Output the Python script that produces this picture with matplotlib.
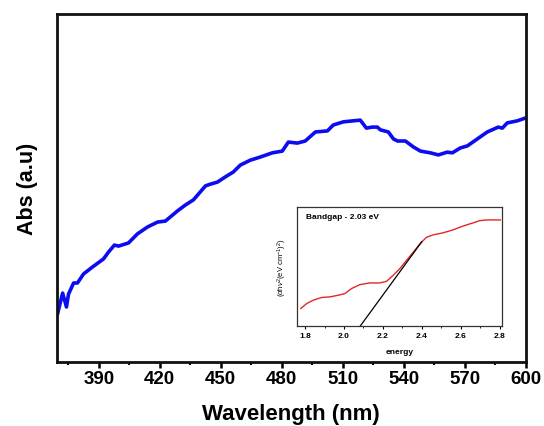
import matplotlib
matplotlib.use("Agg")
import matplotlib.pyplot as plt
from matplotlib.ticker import MultipleLocator, NullLocator

plt.rcParams['font.family'] = ['Liberation Sans', 'DejaVu Sans']
plt.rcParams['mathtext.fontset'] = 'custom'
plt.rcParams['mathtext.rm'] = 'Liberation Sans'
plt.rcParams['mathtext.it'] = 'Liberation Sans:italic'
plt.rcParams['mathtext.bf'] = 'Liberation Sans:bold'

# UV-Vis absorbance spectrum
wavelength = [369.7, 372.2, 374.1, 375.1, 377.6, 379.5, 382.5, 386.9, 392.3, 394.8,
              397.7, 399.7, 404.6, 409.0, 414.0, 418.9, 422.8, 428.7, 432.6, 436.6,
              442.5, 444.9, 448.4, 452.3, 456.2, 459.7, 464.6, 469.5, 475.4, 480.3,
              483.3, 487.7, 491.6, 496.6, 502.5, 505.4, 510.3, 515.3, 518.7, 521.7,
              524.6, 527.1, 528.6, 532.5, 535.0, 537.0, 540.9, 544.8, 548.3, 553.2,
              557.1, 561.5, 564.0, 567.9, 571.4, 576.3, 581.2, 586.6, 588.6, 591.0,
              596.0, 599.9]
absorbance = [0.138, 0.198, 0.158, 0.195, 0.227, 0.227, 0.253, 0.273, 0.296, 0.316,
              0.336, 0.333, 0.342, 0.368, 0.388, 0.402, 0.405, 0.434, 0.451, 0.466,
              0.506, 0.511, 0.517, 0.532, 0.546, 0.566, 0.580, 0.589, 0.601, 0.606,
              0.632, 0.629, 0.635, 0.661, 0.664, 0.681, 0.690, 0.693, 0.695, 0.672,
              0.675, 0.675, 0.667, 0.661, 0.641, 0.635, 0.635, 0.618, 0.606, 0.601,
              0.595, 0.603, 0.601, 0.615, 0.621, 0.641, 0.661, 0.675, 0.672, 0.687,
              0.693, 0.701]
wl_ticks = [390, 420, 450, 480, 510, 540, 570, 600]

# Tauc plot (inset)
energy = [1.778, 1.809, 1.843, 1.885, 1.928, 1.971, 2.005, 2.039, 2.082, 2.133,
          2.185, 2.219, 2.253, 2.287, 2.321, 2.356, 2.390, 2.424, 2.458, 2.509,
          2.561, 2.595, 2.629, 2.663, 2.697, 2.732, 2.766, 2.803]
tauc = [0.267, 0.309, 0.337, 0.359, 0.364, 0.378, 0.392, 0.434, 0.467, 0.481,
        0.481, 0.495, 0.545, 0.601, 0.670, 0.739, 0.809, 0.864, 0.884, 0.901,
        0.926, 0.948, 0.967, 0.984, 1.003, 1.009, 1.009, 1.009]
bandgap = 2.03
fit_slope = 2.236
fit_end = 2.40
energy_ticks = [1.8, 2.0, 2.2, 2.4, 2.6, 2.8]

fig = plt.figure(figsize=(5.44, 4.27), dpi=100)
ax = fig.add_axes([0.1039, 0.1499, 0.8621, 0.815])
ax.plot(wavelength, absorbance, color='#0c0cf0', lw=2.6)
ax.set_xlim(369.2, 600)
ax.set_ylim(0, 1)
ax.set_xticks(wl_ticks)
ax.xaxis.set_minor_locator(MultipleLocator(15))
ax.yaxis.set_major_locator(NullLocator())
ax.tick_params(axis='x', which='major', direction='out', length=4, width=1.8,
               labelsize=13.5, pad=1.5)
ax.tick_params(axis='x', which='minor', direction='out', length=2.5, width=1.5)
for lab in ax.get_xticklabels():
    lab.set_fontweight('bold')
for sp in ax.spines.values():
    sp.set_linewidth(2.0)
    sp.set_color('#111111')
ax.set_xlabel('Wavelength (nm)', fontsize=16, fontweight='bold', labelpad=12)
ax.set_ylabel('Abs (a.u)', fontsize=15.5, fontweight='bold', labelpad=13)

ins = fig.add_axes([0.5465, 0.2342, 0.3757, 0.2794])
ins.plot(energy, tauc, color='#e3262a', lw=1.0)
ins.plot([bandgap, fit_end], [0, fit_slope * (fit_end - bandgap)], color='black', lw=0.9)
ins.set_xlim(1.76, 2.81)
ins.set_ylim(0.12, 1.12)
ins.set_xticks(energy_ticks)
ins.xaxis.set_minor_locator(MultipleLocator(0.1))
ins.yaxis.set_major_locator(NullLocator())
ins.tick_params(axis='x', which='major', direction='out', length=2.5, width=0.8,
                labelsize=6, pad=1.5)
ins.tick_params(axis='x', which='minor', direction='out', length=1.5, width=0.6)
for lab in ins.get_xticklabels():
    lab.set_fontweight('bold')
for sp in ins.spines.values():
    sp.set_linewidth(0.9)
    sp.set_color('#333333')
ins.set_xlabel('energy', fontsize=6, fontweight='bold', labelpad=7)
ins.set_ylabel(r'($\alpha$h$\nu^2$(eV cm$^{-1}$)$^2$)', fontsize=5.5, labelpad=6)
ins.text(0.045, 0.92, 'Bandgap - 2.03 eV', transform=ins.transAxes,
         fontsize=6, fontweight='bold', va='center', ha='left')

fig.savefig('out.png', dpi=100)
